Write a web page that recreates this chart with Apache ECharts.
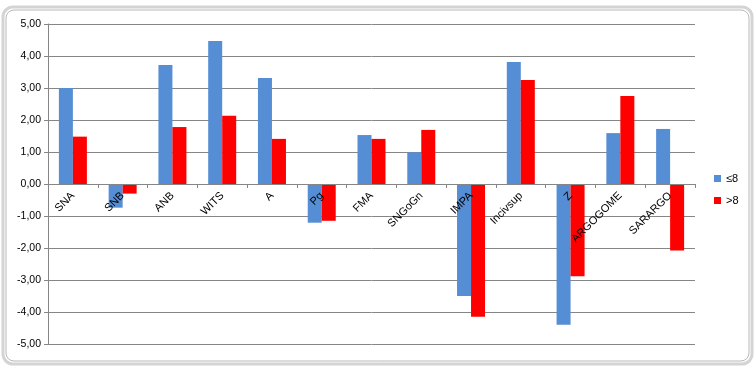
<!DOCTYPE html>
<html><head><meta charset="utf-8">
<script src="https://cdn.jsdelivr.net/npm/echarts@6/dist/echarts.min.js"></script>
<style>html,body{margin:0;padding:0;background:#fff}#c{width:756px;height:370px}</style>
</head><body><div id="c"></div>
<script>
var categories = ['SNA','SNB','ANB','WITS','A','Pg','FMA','SNGoGn','IMPA','Incivsup','Z','ARGOGOME','SARARGO'];
var seriesLe8 = [3.00,-0.74,3.72,4.47,3.31,-1.21,1.53,0.99,-3.50,3.81,-4.40,1.59,1.72];
var seriesGt8 = [1.48,-0.30,1.78,2.13,1.41,-1.15,1.41,1.69,-4.15,3.25,-2.88,2.75,-2.08];
var seriesNames = ['≤8','>8'];

var chart = echarts.init(document.getElementById('c'));
var font = 'Liberation Sans';
chart.setOption({
  animation:false,
  backgroundColor:'#fff',
  textStyle:{fontFamily:font},
  graphic:[
    {type:'rect',shape:{x:3,y:7,width:749,height:357,r:10},style:{fill:'none',stroke:'#d4d4d4',lineWidth:3},silent:true},
    {type:'rect',shape:{x:6,y:10,width:743,height:351,r:8},style:{fill:'none',stroke:'#b8b8b8',lineWidth:1},silent:true}
  ],
  grid:{left:48,right:61,top:24,bottom:26,containLabel:false,outerBoundsMode:'none'},
  legend:{orient:'vertical',left:709,top:168,itemWidth:7,itemHeight:7,itemGap:11,
    textStyle:{fontSize:11,color:'#000',fontFamily:font},data:seriesNames,icon:'rect'},
  xAxis:{type:'category',data:categories,position:'bottom',offset:-160,z:5,
    axisLine:{onZero:false,lineStyle:{color:'#868686',width:1}},
    axisTick:{show:true,alignWithLabel:false,length:4,lineStyle:{color:'#868686'}},
    axisLabel:{rotate:45,margin:10,fontSize:11,color:'#000',interval:0,fontFamily:font,hideOverlap:false}},
  yAxis:{type:'value',min:-5,max:5,interval:1,
    axisLine:{show:true,lineStyle:{color:'#868686'}},
    axisTick:{show:true,length:4,lineStyle:{color:'#868686'}},
    splitLine:{lineStyle:{color:'#868686',width:1}},
    axisLabel:{fontSize:10.5,color:'#000',margin:7,fontFamily:font,
      formatter:function(v){return v.toFixed(2).replace('.',',');}}},
  series:[
    {name:seriesNames[0],type:'bar',data:seriesLe8,barWidth:14,barGap:'0%',itemStyle:{color:'#558ED5'}},
    {name:seriesNames[1],type:'bar',data:seriesGt8,barWidth:14,barGap:'0%',itemStyle:{color:'#FF0000'}}
  ]
});
</script></body></html>
